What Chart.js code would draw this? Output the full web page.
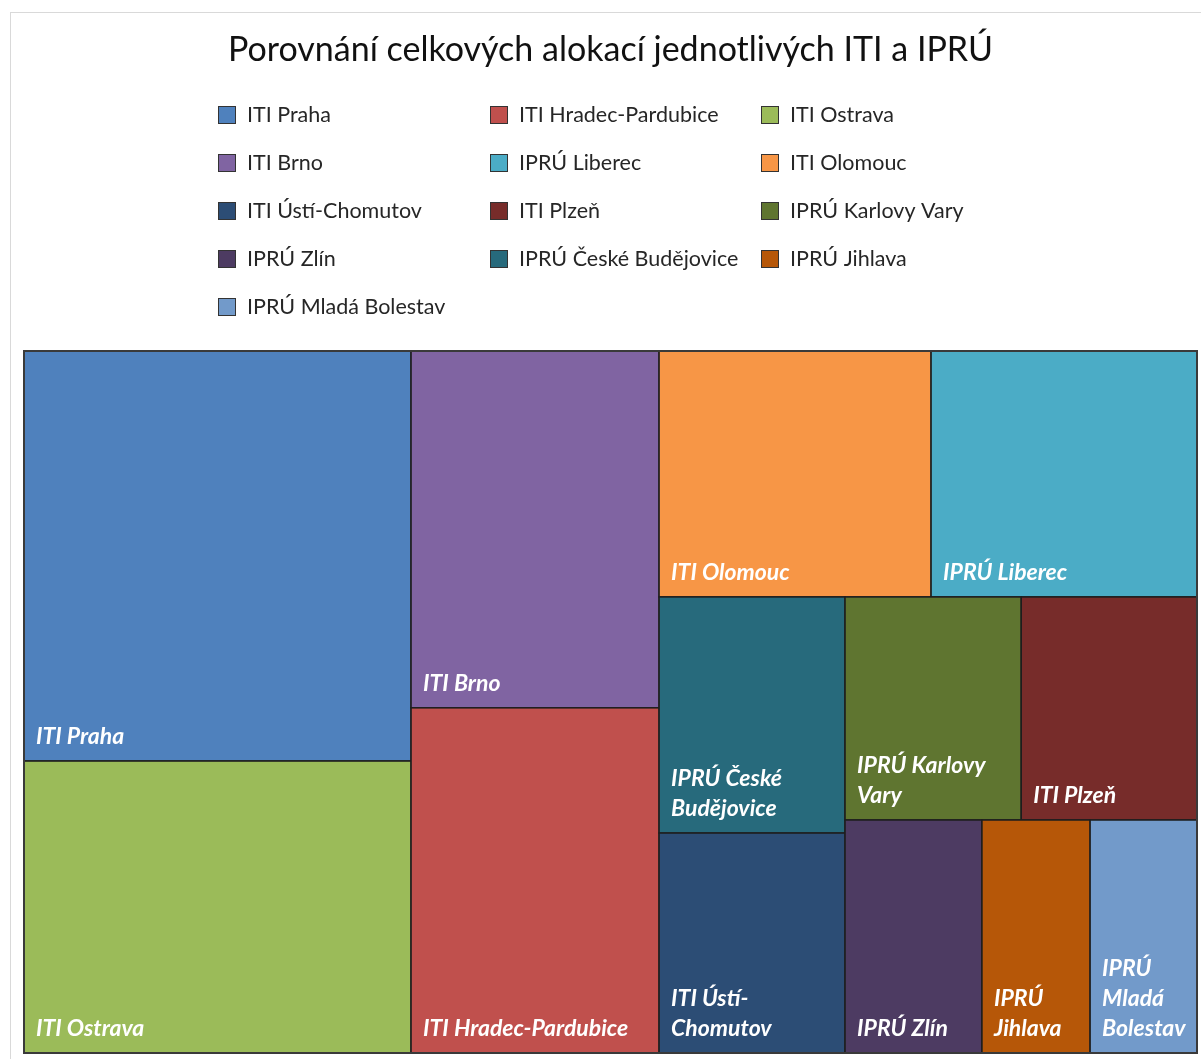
<!DOCTYPE html>
<html lang="cs">
<head>
<meta charset="utf-8">
<title>Porovnání celkových alokací jednotlivých ITI a IPRÚ</title>
<script src="https://cdn.jsdelivr.net/npm/chart.js@4"></script>
<style>
  body { margin: 0; background: #fff; }
  #frame { position: absolute; left: 10px; top: 12px; width: 1200px; height: 1100px; border: 1px solid #d9d9d9; }
  #chart { position: absolute; left: 0; top: 0; }
</style>
</head>
<body>
<div id="frame"></div>
<canvas id="chart" width="1201" height="1059"></canvas>
<script>
// kategorie v pořadí legendy
const categories = [
    "ITI Praha", "ITI Hradec-Pardubice", "ITI Ostrava",
    "ITI Brno", "IPRÚ Liberec", "ITI Olomouc",
    "ITI Ústí-Chomutov", "ITI Plzeň", "IPRÚ Karlovy Vary",
    "IPRÚ Zlín", "IPRÚ České Budějovice", "IPRÚ Jihlava",
    "IPRÚ Mladá Bolestav"
];
// odhad alokací (odečteno z plochy dlaždic)
const allocations = [1587, 856, 1130, 885, 654, 669, 409, 392, 393, 319, 439, 252, 249];
const colors = [
    "#4F81BD", "#C0504D", "#9BBB59",
    "#8064A2", "#4BACC6", "#F79646",
    "#2C4D75", "#772C2A", "#5F7530",
    "#4D3B62", "#276A7C", "#B65708",
    "#729ACA"
];

const FONT = "Lato, 'Open Sans', sans-serif";

// nejhorší poměr stran v jednom pruhu
function worst(row, side) {
    const sum = row.reduce((a, r) => a + r.area, 0);
    const t = sum / side;
    let w = 0;
    row.forEach(r => {
        const len = r.area / t;
        w = Math.max(w, len / t, t / len);
    });
    return w;
}

// squarified treemap, plochy už v jednotkách oblasti
function squarify(items, x, y, w, h) {
    const out = [];
    let i = 0;
    while (i < items.length) {
        const vertical = h <= w;
        const side = vertical ? h : w;
        let row = [items[i]];
        let j = i + 1;
        while (j < items.length) {
            const next = row.concat(items[j]);
            if (worst(next, side) > worst(row, side) && j !== items.length - 1) break;
            row = next;
            j++;
        }
        const sum = row.reduce((a, r) => a + r.area, 0);
        const t = sum / side;
        let pos = vertical ? y : x;
        row.forEach(r => {
            const len = r.area / t;
            if (vertical) out.push({ ...r, x: x, y: pos, w: t, h: len });
            else out.push({ ...r, x: pos, y: y, w: len, h: t });
            pos += len;
        });
        if (vertical) { x += t; w -= t; } else { y += t; h -= t; }
        i = j;
    }
    return out;
}

// zalomení textu podle mezer a pomlček
function wrapText(ctx, text, maxWidth) {
    const tokens = text.split(/(?<=[ \-])/);
    const lines = [];
    let line = "";
    tokens.forEach(tok => {
        const test = line + tok;
        if (line && ctx.measureText(test.trimEnd()).width > maxWidth) {
            lines.push(line.trimEnd());
            line = tok;
        } else {
            line = test;
        }
    });
    if (line) lines.push(line.trimEnd());
    return lines;
}

const treemapPlugin = {
    id: "treemap",
    afterDatasetsDraw(chart) {
        const { ctx, chartArea, scales } = chart;
        const aspect = chartArea.width / chartArea.height;
        const total = allocations.reduce((a, b) => a + b, 0);
        const items = categories
            .map((name, i) => ({ name, color: colors[i], area: allocations[i] / total * aspect }))
            .sort((a, b) => b.area - a.area);
        const cells = squarify(items, 0, 0, aspect, 1);

        ctx.save();
        cells.forEach(c => {
            const x0 = scales.x.getPixelForValue(c.x / aspect);
            const x1 = scales.x.getPixelForValue((c.x + c.w) / aspect);
            const y0 = scales.y.getPixelForValue(c.y);
            const y1 = scales.y.getPixelForValue(c.y + c.h);
            ctx.fillStyle = c.color;
            ctx.fillRect(x0, y0, x1 - x0, y1 - y0);
            ctx.lineWidth = 1.5;
            ctx.strokeStyle = "#1e1e1e";
            ctx.strokeRect(x0, y0, x1 - x0, y1 - y0);

            ctx.font = "italic bold 23px " + FONT;
            ctx.fillStyle = "#fff";
            ctx.textBaseline = "middle";
            ctx.textAlign = "left";
            const lines = wrapText(ctx, c.name, x1 - x0 - 24);
            lines.forEach((ln, k) => {
                ctx.fillText(ln, x0 + 12, y1 - 24 - (lines.length - 1 - k) * 30);
            });
        });
        ctx.lineWidth = 2;
        ctx.strokeStyle = "#3a3a3a";
        ctx.strokeRect(chartArea.left, chartArea.top, chartArea.width, chartArea.height);
        ctx.restore();
    },
    afterDraw(chart) {
        // legenda ve třech sloupcích
        const ctx = chart.ctx;
        const colX = [218, 490, 761];
        ctx.save();
        ctx.font = "21.5px " + FONT;
        ctx.textBaseline = "middle";
        categories.forEach((name, i) => {
            const x = colX[i % 3];
            const y = 115 + Math.floor(i / 3) * 48;
            ctx.fillStyle = colors[i];
            ctx.fillRect(x, y - 9, 18, 18);
            ctx.lineWidth = 1;
            ctx.strokeStyle = "#333";
            ctx.strokeRect(x + 0.5, y - 8.5, 17, 17);
            ctx.fillStyle = "#262626";
            ctx.fillText(name, x + 29, y);
        });
        ctx.restore();
    }
};

new Chart(document.getElementById("chart"), {
    type: "scatter",
    data: { datasets: [{ data: [] }] },
    options: {
        responsive: false,
        animation: false,
        devicePixelRatio: 1,
        layout: { padding: { left: 24, right: 4, top: 0, bottom: 6 } },
        scales: {
            x: { type: "linear", min: 0, max: 1, display: false },
            y: { type: "linear", min: 0, max: 1, reverse: true, display: false }
        },
        plugins: {
            legend: { display: false },
            tooltip: { enabled: false },
            title: {
                display: true,
                text: "Porovnání celkových alokací jednotlivých ITI a IPRÚ",
                color: "#111",
                font: { family: FONT, size: 34, weight: "normal" },
                padding: { top: 29.6, bottom: 280.6 }
            }
        }
    },
    plugins: [treemapPlugin]
});
</script>
</body>
</html>
